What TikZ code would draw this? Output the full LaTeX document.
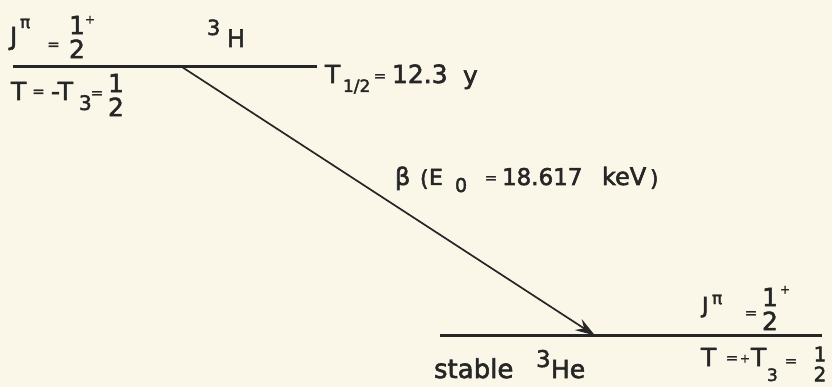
\documentclass[tikz,border=0pt]{standalone}
\usepackage{fontspec}
\setmainfont{DejaVu Sans}[FakeBold=2.2]
\usetikzlibrary{arrows.meta}
\definecolor{paper}{HTML}{FBF7E8}
\definecolor{ink}{HTML}{262626}
\newcommand\fsz[1]{\fontsize{#1}{#1}\selectfont}
\tikzset{
  txt/.style={anchor=base west, inner sep=0pt, outer sep=0pt, text=ink, font=\fsz{25}},
  frac/.style={anchor=center, inner sep=0pt, outer sep=0pt, text=ink, align=center,
    font=\fontsize{25}{24}\selectfont},
  eqs/.style={anchor=base, inner sep=0pt, outer sep=0pt, text=ink, font=\fsz{15}},
  pls/.style={anchor=base, inner sep=0pt, outer sep=0pt, text=ink, font=\fsz{12}},
  level/.style={draw=ink, line width=3pt},
  decay/.style={draw=ink, line width=1.7pt, -{Stealth[length=20pt,width=13pt,inset=7pt]}}
}
\begin{document}
\begin{tikzpicture}[x=1pt,y=-1pt]
\fill[paper] (0,0) rectangle (832,387);
\useasboundingbox (0,0) rectangle (832,387);
% levels
\coordinate (tl) at (13,67);
\coordinate (tr) at (317,67);
\coordinate (bl) at (440,335.5);
\coordinate (br) at (822,335.5);
\coordinate (astart) at (182,67);
\coordinate (aend) at (595,335.5);
\draw[level] (tl) -- (tr);
\draw[level] (bl) -- (br);
\draw[decay] (astart) -- (aend);
% top-left quantum numbers
\node[txt] (j1) at (10,45) {J};
\node[txt,font=\fsz{17}] (pi1) at (20,28) {π};
\node[eqs] (e1) at (53.5,49.5) {=};
\node[frac] (f1) at (77,37) {1\\2};
\node[pls] (p1) at (90,23.5) {+};
\node[txt,font=\fsz{21}] (m1) at (207,35) {3};
\node[txt,font=\fsz{24}] (h1) at (227,47) {H};
\node[txt] (t1) at (11,100) {T};
\node[eqs] (e2) at (38.5,96.5) {=};
\node[txt] (t2) at (51,100) {-T};
\node[txt,font=\fsz{20}] (s1) at (79,110) {3};
\node[eqs] (e3) at (97,98) {=};
\node[frac] (f2) at (116,95) {1\\2};
% half-life
\node[txt] (t3) at (325,83) {T};
\node[txt,font=\fsz{17}] (s2) at (343,92) {1/2};
\node[eqs] (e4) at (380,81) {=};
\node[txt] (v1) at (392,83) {12.3};
\node[txt] (u1) at (463,84) {y};
% beta label
\node[txt,font=\fsz{24}] (b1) at (395,185) {β};
\node[txt,font=\fsz{22}] (o1) at (420,186) {(};
\node[txt,font=\fsz{22}] (en) at (429,185) {E};
\node[txt,font=\fsz{19}] (z1) at (455,192) {0};
\node[eqs] (e5) at (491,183) {=};
\node[txt,font=\fsz{23}] (v2) at (502,185) {18.617};
\node[txt,font=\fsz{24}] (u2) at (602,185) {keV};
\node[txt,font=\fsz{22}] (c1) at (650,186) {)};
% bottom-right quantum numbers
\node[txt,font=\fsz{22}] (j2) at (702,313) {J};
\node[txt,font=\fsz{17}] (pi2) at (712,304) {π};
\node[eqs] (e6) at (751,318) {=};
\node[frac] (f3) at (770,309) {1\\2};
\node[pls] (p2) at (785,293.5) {+};
\node[txt] (t4) at (701,366) {T};
\node[eqs] (e7) at (732,363) {=};
\node[pls] (p3) at (745,362.5) {+};
\node[txt] (t5) at (751,366) {T};
\node[txt,font=\fsz{17}] (s3) at (767,381) {3};
\node[eqs] (e8) at (791,366) {=};
\node[frac,font=\fontsize{20}{20}\selectfont] (f4) at (820,364) {1\\2};
% daughter label
\node[txt,font=\fsz{26}] (st) at (434,378) {stable};
\node[txt,font=\fsz{23}] (m2) at (536,367) {3};
\node[txt] (he) at (551,378) {He};
\end{tikzpicture}
\end{document}
